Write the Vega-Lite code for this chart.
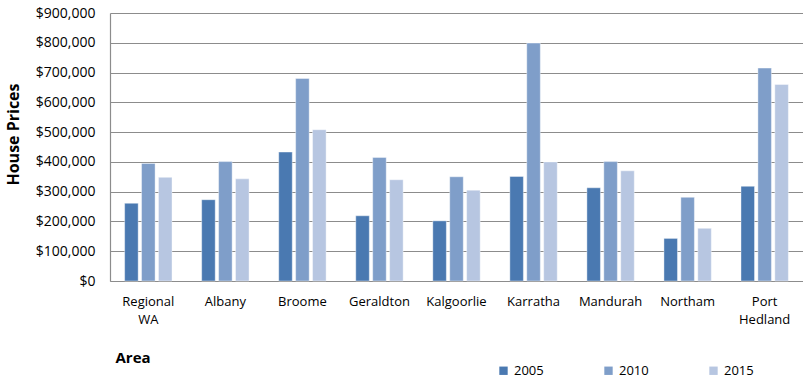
{
  "$schema": "https://vega.github.io/schema/vega-lite/v6.json",
  "autosize": "none",
  "width": 693,
  "height": 268,
  "padding": {"left": 110, "top": 13, "right": 0, "bottom": 98},
  "background": "white",
  "config": {"view": {"stroke": null}, "font": "Open Sans"},
  "data": {"values": [
    {"area": "Regional WA", "year": "2005", "price": 261000},
    {"area": "Regional WA", "year": "2010", "price": 395000},
    {"area": "Regional WA", "year": "2015", "price": 348000},
    {"area": "Albany", "year": "2005", "price": 273000},
    {"area": "Albany", "year": "2010", "price": 401000},
    {"area": "Albany", "year": "2015", "price": 343000},
    {"area": "Broome", "year": "2005", "price": 433000},
    {"area": "Broome", "year": "2010", "price": 680000},
    {"area": "Broome", "year": "2015", "price": 508000},
    {"area": "Geraldton", "year": "2005", "price": 219000},
    {"area": "Geraldton", "year": "2010", "price": 415000},
    {"area": "Geraldton", "year": "2015", "price": 340000},
    {"area": "Kalgoorlie", "year": "2005", "price": 202000},
    {"area": "Kalgoorlie", "year": "2010", "price": 350000},
    {"area": "Kalgoorlie", "year": "2015", "price": 305000},
    {"area": "Karratha", "year": "2005", "price": 351000},
    {"area": "Karratha", "year": "2010", "price": 799000},
    {"area": "Karratha", "year": "2015", "price": 400000},
    {"area": "Mandurah", "year": "2005", "price": 313000},
    {"area": "Mandurah", "year": "2010", "price": 401000},
    {"area": "Mandurah", "year": "2015", "price": 370000},
    {"area": "Northam", "year": "2005", "price": 143000},
    {"area": "Northam", "year": "2010", "price": 281000},
    {"area": "Northam", "year": "2015", "price": 177000},
    {"area": "Port Hedland", "year": "2005", "price": 318000},
    {"area": "Port Hedland", "year": "2010", "price": 715000},
    {"area": "Port Hedland", "year": "2015", "price": 660000}
  ]},
  "mark": {"type": "bar", "stroke": "#ffffff", "strokeOpacity": 0.5, "strokeWidth": 0.8},
  "encoding": {
    "x": {
      "field": "area", "type": "nominal", "sort": null,
      "scale": {"paddingInner": 0.385, "paddingOuter": 0.19},
      "axis": {
        "title": "Area", "titleFont": "Open Sans", "titleFontSize": 15, "titleFontWeight": "bold",
        "titleColor": "#000", "titleAlign": "left", "titleAnchor": "start", "titleBaseline": "middle",
        "titleX": 5, "titleY": 76,
        "labelAngle": 0, "labelFontSize": 13, "labelColor": "#000", "labelPadding": 14,
        "labelLineHeight": 18, "labelExpr": "split(datum.label, ' ')",
        "labelOverlap": false, "labelFlush": false,
        "ticks": false, "domainColor": "#8c8c8c", "domainWidth": 1.2
      }
    },
    "xOffset": {"field": "year", "type": "nominal", "scale": {"paddingInner": 0.2, "paddingOuter": 0}},
    "y": {
      "field": "price", "type": "quantitative",
      "scale": {"domain": [0, 900000]},
      "axis": {
        "title": "House Prices", "titleFontSize": 16, "titleFontWeight": "bold", "titleColor": "#000",
        "titleX": -97, "titleY": 121, "titleAngle": -90, "titleAlign": "center", "titleBaseline": "middle",
        "format": "$,.0f", "values": [0,100000,200000,300000,400000,500000,600000,700000,800000,900000],
        "labelOverlap": false, "labelFlush": false,
        "labelFontSize": 14, "labelColor": "#000", "labelPadding": 15, "ticks": false,
        "gridColor": "#8c8c8c", "gridWidth": 1.2, "domainColor": "#8c8c8c", "domainWidth": 1.2
      }
    },
    "color": {
      "field": "year", "type": "nominal",
      "scale": {"domain": ["2005", "2010", "2015"], "range": ["#4a79b1", "#7f9ec9", "#b7c6e1"]},
      "legend": {
        "title": null, "orient": "none", "direction": "horizontal",
        "legendX": 387, "legendY": 351, "symbolType": "square", "symbolSize": 70,
        "symbolStrokeWidth": 0, "labelFontSize": 13, "labelColor": "#000", "labelOffset": 4,
        "columnPadding": 58
      }
    }
  }
}
